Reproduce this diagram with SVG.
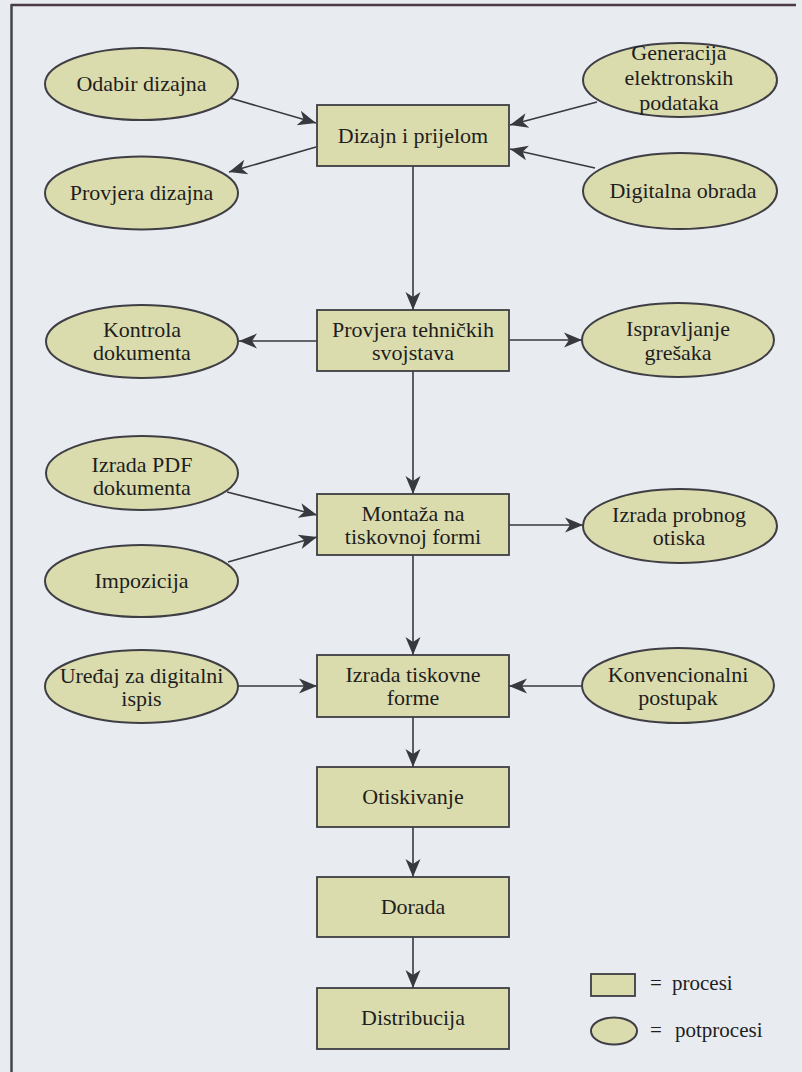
<svg xmlns="http://www.w3.org/2000/svg" width="802" height="1072" viewBox="0 0 802 1072">
<defs>
<marker id="arr" markerUnits="userSpaceOnUse" markerWidth="20" markerHeight="18" viewBox="0 0 20 18" refX="18" refY="9" orient="auto">
<path d="M0,1.5 L18,9 L0,16.5 L5,9 Z" fill="#38383f"/>
</marker>
</defs>
<style>
.box{fill:#dbdcae;stroke:#3e3e44;stroke-width:1.8}
.ell{fill:#dbdcae;stroke:#3e3e44;stroke-width:2}
.t{font-size:22px;fill:#1e1e1e;text-anchor:middle}
.lg{font-size:21px;fill:#1e1e1e}
.c{fill:none;stroke:#38383f;stroke-width:1.6;marker-end:url(#arr)}
</style>
<rect x="0" y="0" width="802" height="1072" fill="#e8ebf0"/>
<line x1="11" y1="5" x2="796" y2="5" stroke="#4a3a42" stroke-width="2.5"/>
<line x1="11.5" y1="4" x2="11.5" y2="1072" stroke="#45454c" stroke-width="2.5"/>

<g id="connectors">
<path class="c" d="M230,98 L316,123"/>
<path class="c" d="M316,147 L229,172"/>
<path class="c" d="M597,102 L510,125"/>
<path class="c" d="M595,168 L510,149"/>
<path class="c" d="M413,166 L413,310"/>
<path class="c" d="M317,341 L239,341"/>
<path class="c" d="M509,340 L582,340"/>
<path class="c" d="M413,371 L413,494"/>
<path class="c" d="M227,492 L317,515"/>
<path class="c" d="M228,562 L317,537"/>
<path class="c" d="M509,525 L583,525"/>
<path class="c" d="M413,555 L413,655"/>
<path class="c" d="M238,686 L317,686"/>
<path class="c" d="M582,686 L509,686"/>
<path class="c" d="M413,717 L413,767"/>
<path class="c" d="M413,827 L413,877"/>
<path class="c" d="M413,937 L413,988"/>
</g>

<g font-family="'Liberation Serif', Tinos, 'Times New Roman', 'DejaVu Serif', serif">
<g id="n-dizajn"><rect class="box" x="317" y="105" width="192" height="61"/><text class="t" x="413" y="143">Dizajn i prijelom</text></g>
<g id="n-provjera-teh"><rect class="box" x="317" y="310" width="192" height="61"/><text class="t" x="413" y="337">Provjera tehničkih</text><text class="t" x="413" y="360">svojstava</text></g>
<g id="n-montaza"><rect class="box" x="317" y="494" width="192" height="61"/><text class="t" x="413" y="521">Montaža na</text><text class="t" x="413" y="544">tiskovnoj formi</text></g>
<g id="n-izrada-forme"><rect class="box" x="317" y="655" width="192" height="62"/><text class="t" x="413" y="682">Izrada tiskovne</text><text class="t" x="413" y="705">forme</text></g>
<g id="n-otiskivanje"><rect class="box" x="317" y="767" width="192" height="60"/><text class="t" x="413" y="804">Otiskivanje</text></g>
<g id="n-dorada"><rect class="box" x="317" y="877" width="192" height="60"/><text class="t" x="413" y="914">Dorada</text></g>
<g id="n-distribucija"><rect class="box" x="317" y="988" width="192" height="61"/><text class="t" x="413" y="1025">Distribucija</text></g>

<g id="e-odabir"><ellipse class="ell" cx="141.5" cy="84" rx="96.5" ry="36"/><text class="t" x="141.5" y="91">Odabir dizajna</text></g>
<g id="e-provjera-diz"><ellipse class="ell" cx="141.5" cy="193" rx="96.5" ry="36.5"/><text class="t" x="141.5" y="200">Provjera dizajna</text></g>
<g id="e-generacija"><ellipse class="ell" cx="680" cy="80" rx="97" ry="37"/><text class="t" x="679" y="60">Generacija</text><text class="t" x="679" y="85">elektronskih</text><text class="t" x="679" y="110">podataka</text></g>
<g id="e-digitalna"><ellipse class="ell" cx="680" cy="191" rx="97" ry="38"/><text class="t" x="683" y="198">Digitalna obrada</text></g>
<g id="e-kontrola"><ellipse class="ell" cx="142" cy="341.5" rx="96" ry="36.5"/><text class="t" x="142" y="337">Kontrola</text><text class="t" x="142" y="360">dokumenta</text></g>
<g id="e-ispravljanje"><ellipse class="ell" cx="678" cy="340" rx="96" ry="37"/><text class="t" x="678" y="336">Ispravljanje</text><text class="t" x="678" y="360">grešaka</text></g>
<g id="e-pdf"><ellipse class="ell" cx="142" cy="473" rx="96" ry="37"/><text class="t" x="142" y="472">Izrada PDF</text><text class="t" x="142" y="495">dokumenta</text></g>
<g id="e-impozicija"><ellipse class="ell" cx="141.5" cy="581" rx="96.5" ry="36"/><text class="t" x="141.5" y="588">Impozicija</text></g>
<g id="e-probni"><ellipse class="ell" cx="680" cy="526" rx="97" ry="37"/><text class="t" x="679" y="522">Izrada probnog</text><text class="t" x="679" y="545">otiska</text></g>
<g id="e-uredaj"><ellipse class="ell" cx="141.5" cy="686.5" rx="96.5" ry="36.5"/><text class="t" x="141.5" y="683">Uređaj za digitalni</text><text class="t" x="141.5" y="706">ispis</text></g>
<g id="e-konvencionalni"><ellipse class="ell" cx="678" cy="685.5" rx="96" ry="37.5"/><text class="t" x="678" y="682">Konvencionalni</text><text class="t" x="678" y="705">postupak</text></g>

<g id="legend">
<rect class="box" x="591" y="974" width="44" height="22"/>
<text class="lg" x="650" y="990">=</text><text class="lg" x="672" y="990">procesi</text>
<ellipse class="ell" cx="614" cy="1031" rx="23" ry="13.5"/>
<text class="lg" x="650" y="1037">=</text><text class="lg" x="675" y="1037">potprocesi</text>
</g>
</g>
</svg>
